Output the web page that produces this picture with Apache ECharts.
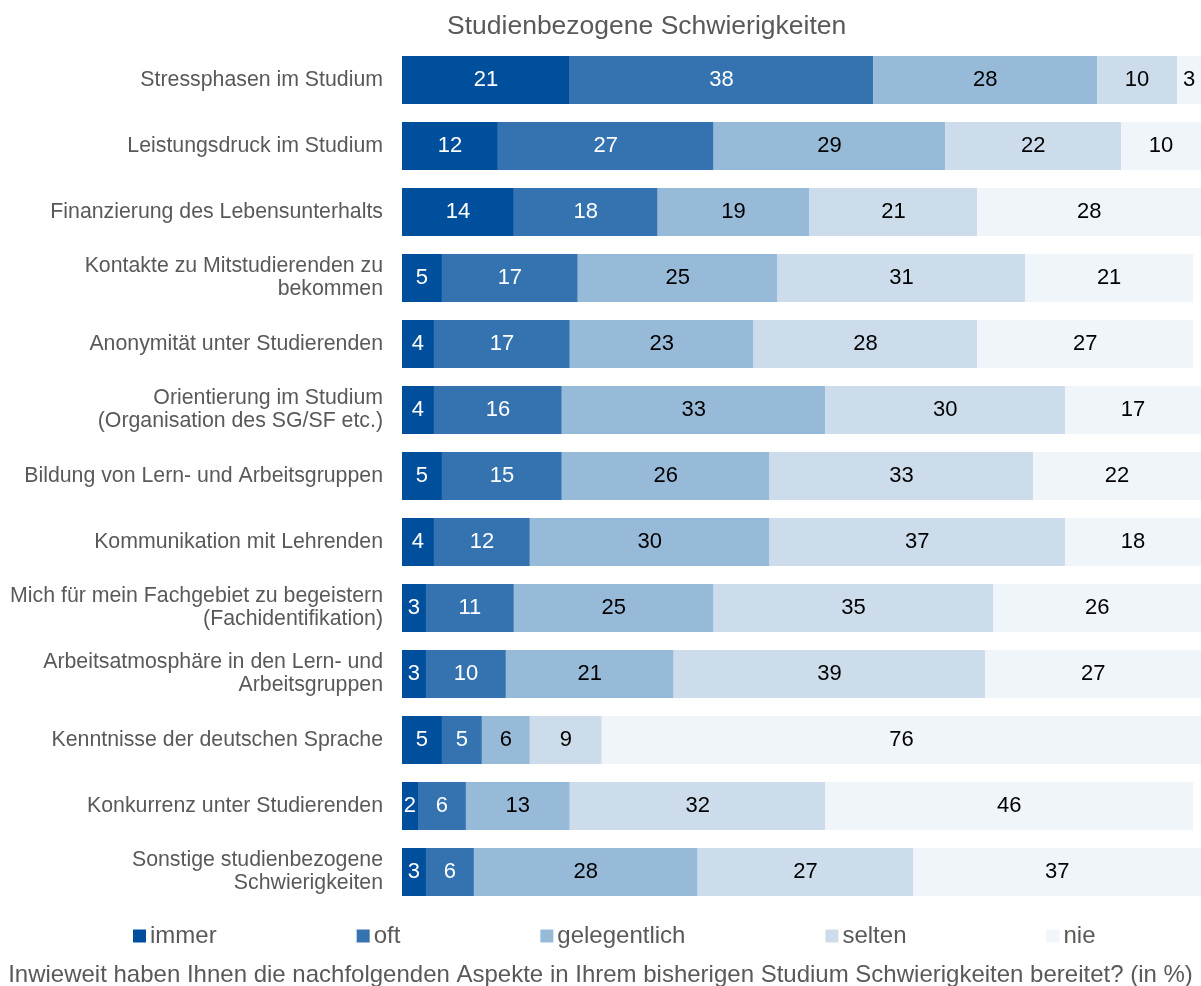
<!DOCTYPE html>
<html>
<head>
<meta charset="utf-8">
<script src="https://cdn.jsdelivr.net/npm/echarts@6/dist/echarts.min.js"></script>
<style>
  html, body { margin: 0; padding: 0; background: #fff; }
  #chart { width: 1201px; height: 986px; }
</style>
</head>
<body>
<div id="chart"></div>
<script>
const categories = [
  'Stressphasen im Studium',
  'Leistungsdruck im Studium',
  'Finanzierung des Lebensunterhalts',
  'Kontakte zu Mitstudierenden zu\nbekommen',
  'Anonymität unter Studierenden',
  'Orientierung im Studium\n(Organisation des SG/SF etc.)',
  'Bildung von Lern- und Arbeitsgruppen',
  'Kommunikation mit Lehrenden',
  'Mich für mein Fachgebiet zu begeistern\n(Fachidentifikation)',
  'Arbeitsatmosphäre in den Lern- und\nArbeitsgruppen',
  'Kenntnisse der deutschen Sprache',
  'Konkurrenz unter Studierenden',
  'Sonstige studienbezogene\nSchwierigkeiten'
];
const immer = [21, 12, 14, 5, 4, 4, 5, 4, 3, 3, 5, 2, 3];
const oft = [38, 27, 18, 17, 17, 16, 15, 12, 11, 10, 5, 6, 6];
const gelegentlich = [28, 29, 19, 25, 23, 33, 26, 30, 25, 21, 6, 13, 28];
const selten = [10, 22, 21, 31, 28, 30, 33, 37, 35, 39, 9, 32, 27];
const nie = [3, 10, 28, 21, 27, 17, 22, 18, 26, 27, 76, 46, 37];

const seriesDefs = [
  { name: 'immer', data: immer, color: '#004F9C', text: '#fff' },
  { name: 'oft', data: oft, color: '#3473B0', text: '#fff' },
  { name: 'gelegentlich', data: gelegentlich, color: '#98BAD9', text: '#000' },
  { name: 'selten', data: selten, color: '#CCDCEB', text: '#000' },
  { name: 'nie', data: nie, color: '#F0F5FA', text: '#000' }
];

const chart = echarts.init(document.getElementById('chart'));
const font = 'Liberation Sans, Arial, sans-serif';

chart.setOption({
  animation: false,
  title: [{
    text: 'Studienbezogene Schwierigkeiten',
    left: 442,
    top: 8,
    textStyle: { fontFamily: font, fontSize: 26.5, fontWeight: 'normal', color: '#595959' }
  }, {
    text: 'Inwieweit haben Ihnen die nachfolgenden Aspekte in Ihrem bisherigen Studium Schwierigkeiten bereitet? (in %)',
    left: 'center',
    top: 958,
    textStyle: { fontFamily: font, fontSize: 24, fontWeight: 'normal', color: '#595959' }
  }],
  legend: {
    left: 128,
    top: 919,
    itemWidth: 13,
    itemHeight: 13,
    itemGap: 140,
    icon: 'rect',
    textStyle: { fontFamily: font, fontSize: 24, color: '#595959', padding: [0, 0, 0, -1] },
    data: seriesDefs.map(s => s.name)
  },
  grid: { left: 402, right: -1, top: 47, bottom: 81 },
  xAxis: {
    type: 'value',
    min: 0,
    max: 100,
    show: false
  },
  yAxis: {
    type: 'category',
    inverse: true,
    data: categories,
    axisLine: { show: false },
    axisTick: { show: false },
    axisLabel: {
      margin: 19,
      fontFamily: font,
      fontSize: 21.3,
      color: '#595959',
      lineHeight: 23
    }
  },
  series: seriesDefs.map(s => ({
    name: s.name,
    type: 'bar',
    stack: 'total',
    barWidth: 48,
    data: s.data,
    itemStyle: { color: s.color },
    label: {
      show: true,
      position: 'inside',
      fontFamily: font,
      fontSize: 22,
      color: s.text
    }
  }))
});
</script>
</body>
</html>
